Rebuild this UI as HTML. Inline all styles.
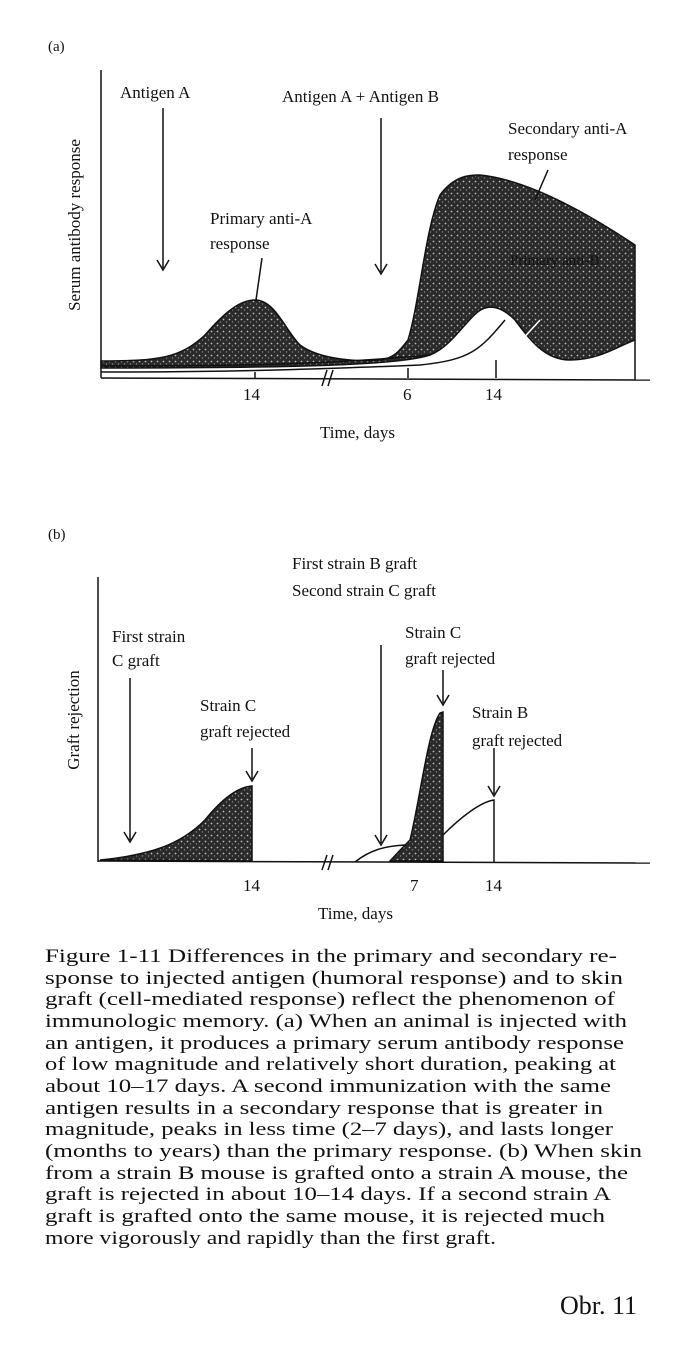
<!DOCTYPE html>
<html><head><meta charset="utf-8"><style>
html,body{margin:0;padding:0;background:#fff}
svg{display:block}
text{font-family:"Liberation Serif",serif;fill:#111}
.c{font-family:"Liberation Serif",serif;font-size:19px}
</style></head><body>
<svg width="698" height="1359" viewBox="0 0 698 1359" xmlns="http://www.w3.org/2000/svg">
<defs>
<pattern id="st" width="6" height="6" patternUnits="userSpaceOnUse">
<rect width="6" height="6" fill="#2a2a2a"/>
<circle cx="1.5" cy="1.5" r="0.9" fill="#bbb"/>
<circle cx="4.5" cy="4" r="0.7" fill="#888"/>
</pattern>
</defs>
<g fill="none" stroke="#111" stroke-width="1.5">
<line x1="101" y1="70" x2="101" y2="378"/>
<line x1="101" y1="378" x2="650" y2="380"/>
<path d="M101,361 C160,361 180,358 205,335 C225,312 240,300 255,300 C275,300 285,330 300,345 C320,360 360,362 380,360 C395,358 400,350 408,340 C420,300 425,230 440,195 C455,175 470,175 480,175 C530,180 590,215 635,245 L635,340 C620,345 600,360 570,360 C545,360 530,340 515,320 C505,310 495,305 485,308 C470,312 455,345 430,355 C400,365 300,368 101,368 Z" fill="url(#st)"/>
<path d="M101,366 C250,366 330,364 430,355" />
<path d="M101,372 C250,372 350,368 420,365 C470,360 480,350 505,320"/>
<line x1="635" y1="340" x2="635" y2="380"/>
<line x1="255" y1="372" x2="255" y2="378"/>
<line x1="408" y1="368" x2="408" y2="378"/>
<line x1="496" y1="360" x2="496" y2="378"/>
<line x1="322" y1="386" x2="327" y2="370"/><line x1="328" y1="386" x2="333" y2="370"/>
<line x1="163" y1="108" x2="163" y2="268"/><path d="M157,260 L163,270 L169,260"/>
<line x1="381" y1="118" x2="381" y2="272"/><path d="M375,264 L381,274 L387,264"/>
<line x1="262" y1="258" x2="256" y2="300"/>
<line x1="548" y1="170" x2="535" y2="200" stroke="#111"/>
<line x1="540" y1="320" x2="520" y2="342" stroke="#fff"/>
</g>
<text x="48" y="51" font-size="15">(a)</text>
<text transform="translate(80,225) rotate(-90)" font-size="17" text-anchor="middle">Serum antibody response</text>
<text x="120" y="98" font-size="17">Antigen A</text>
<text x="282" y="102" font-size="17">Antigen A + Antigen B</text>
<text x="508" y="134" font-size="17">Secondary anti-A</text>
<text x="508" y="160" font-size="17">response</text>
<text x="210" y="224" font-size="17">Primary anti-A</text>
<text x="210" y="249" font-size="17">response</text>
<text x="510" y="265" font-size="15" fill="#555">Primary anti-B</text>
<text x="243" y="400" font-size="17">14</text>
<text x="403" y="400" font-size="17">6</text>
<text x="485" y="400" font-size="17">14</text>
<text x="320" y="438" font-size="17">Time, days</text>

<text x="48" y="539" font-size="15">(b)</text>
<text transform="translate(79,720) rotate(-90)" font-size="17" text-anchor="middle">Graft rejection</text>
<g fill="none" stroke="#111" stroke-width="1.5">
<line x1="98" y1="577" x2="98" y2="862"/>
<line x1="98" y1="861" x2="650" y2="863"/>
<path d="M100,860 C150,855 180,845 205,820 C225,795 240,787 252,786 L252,861 Z" fill="url(#st)"/>
<path d="M390,861 C400,850 405,845 410,840 C420,800 428,730 440,713 L443,712 L443,861 Z" fill="url(#st)"/>
<path d="M355,862 C370,850 385,846 405,845"/>
<path d="M443,835 C460,818 480,802 494,800 L494,862"/>
<line x1="130" y1="678" x2="130" y2="840"/><path d="M124,832 L130,842 L136,832"/>
<line x1="252" y1="748" x2="252" y2="779"/><path d="M246,771 L252,781 L258,771"/>
<line x1="381" y1="645" x2="381" y2="843"/><path d="M375,835 L381,845 L387,835"/>
<line x1="443" y1="670" x2="443" y2="703"/><path d="M437,695 L443,705 L449,695"/>
<line x1="494" y1="748" x2="494" y2="794"/><path d="M488,786 L494,796 L500,786"/>
<line x1="322" y1="870" x2="327" y2="855"/><line x1="328" y1="870" x2="333" y2="855"/>
</g>
<text x="112" y="642" font-size="17">First strain</text>
<text x="112" y="666" font-size="17">C graft</text>
<text x="200" y="711" font-size="17">Strain C</text>
<text x="200" y="737" font-size="17">graft rejected</text>
<text x="292" y="569" font-size="17">First strain B graft</text>
<text x="292" y="596" font-size="17">Second strain C graft</text>
<text x="405" y="638" font-size="17">Strain C</text>
<text x="405" y="664" font-size="17">graft rejected</text>
<text x="472" y="718" font-size="17">Strain B</text>
<text x="472" y="746" font-size="17">graft rejected</text>
<text x="243" y="891" font-size="17">14</text>
<text x="410" y="891" font-size="17">7</text>
<text x="485" y="891" font-size="17">14</text>
<text x="318" y="919" font-size="17">Time, days</text>

<g>
<text class="c" x="45" y="962" textLength="572" lengthAdjust="spacingAndGlyphs">Figure 1-11   Differences in the primary and secondary re-</text>
<text class="c" x="45" y="984" textLength="578" lengthAdjust="spacingAndGlyphs">sponse to injected antigen (humoral response) and to skin</text>
<text class="c" x="45" y="1005" textLength="570" lengthAdjust="spacingAndGlyphs">graft (cell-mediated response) reflect the phenomenon of</text>
<text class="c" x="45" y="1027" textLength="582" lengthAdjust="spacingAndGlyphs">immunologic memory. (a) When an animal is injected with</text>
<text class="c" x="45" y="1049" textLength="579" lengthAdjust="spacingAndGlyphs">an antigen, it produces a primary serum antibody response</text>
<text class="c" x="45" y="1070" textLength="571" lengthAdjust="spacingAndGlyphs">of low magnitude and relatively short duration, peaking at</text>
<text class="c" x="45" y="1092" textLength="566" lengthAdjust="spacingAndGlyphs">about 10–17 days. A second immunization with the same</text>
<text class="c" x="45" y="1114" textLength="558" lengthAdjust="spacingAndGlyphs">antigen results in a secondary response that is greater in</text>
<text class="c" x="45" y="1135" textLength="568" lengthAdjust="spacingAndGlyphs">magnitude, peaks in less time (2–7 days), and lasts longer</text>
<text class="c" x="45" y="1157" textLength="597" lengthAdjust="spacingAndGlyphs">(months to years) than the primary response. (b) When skin</text>
<text class="c" x="45" y="1179" textLength="583" lengthAdjust="spacingAndGlyphs">from a strain B mouse is grafted onto a strain A mouse, the</text>
<text class="c" x="45" y="1200" textLength="566" lengthAdjust="spacingAndGlyphs">graft is rejected in about 10–14 days. If a second strain A</text>
<text class="c" x="45" y="1222" textLength="560" lengthAdjust="spacingAndGlyphs">graft is grafted onto the same mouse, it is rejected much</text>
<text class="c" x="45" y="1244" textLength="451" lengthAdjust="spacingAndGlyphs">more vigorously and rapidly than the first graft.</text>
</g>
<text x="560" y="1314" font-size="26" font-family="Liberation Serif">Obr. 11</text>
</svg>
</body></html>
